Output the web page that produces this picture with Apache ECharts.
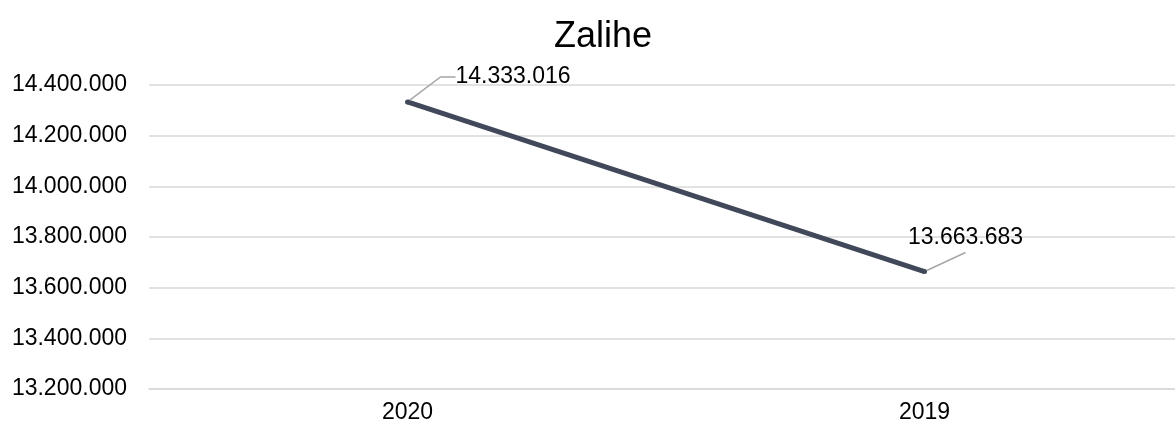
<!DOCTYPE html>
<html>
<head>
<meta charset="utf-8">
<script src="https://cdn.jsdelivr.net/npm/echarts@6/dist/echarts.min.js"></script>
<style>
  html, body { margin: 0; padding: 0; background: #fff; }
  #chart { width: 1175px; height: 428px; }
</style>
</head>
<body>
<div id="chart"></div>
<script>
// Inventory (Zalihe) by year
const titleText = 'Zalihe';
const categories = ['2020', '2019'];
const values = [14333016, 13663683];
const yMin = 13200000;
const yMax = 14400000;
const yStep = 200000;

// Thousands separated with dots
function fmt(v) {
  return String(Math.round(v)).replace(/\B(?=(\d{3})+(?!\d))/g, '.');
}

const FONT = '"Liberation Sans", Arial, sans-serif';

// Per-point label guide settings
const guideLen = [15, 0];
const labelPad = [[0, 0, 0, 0], [0, 40, 7, 40]];

const seriesData = values.map((v, i) => ({
  value: v,
  label: { padding: labelPad[i], backgroundColor: 'rgba(255,255,255,0)' },
  labelLine: { show: true, length2: guideLen[i], lineStyle: { color: '#a6a6a6', width: 1.5 } }
}));

const chart = echarts.init(document.getElementById('chart'), null, { renderer: 'canvas' });
chart.setOption({
  animation: false,
  backgroundColor: '#ffffff',
  title: {
    text: titleText,
    left: 549,
    top: 14,
    textStyle: { fontFamily: FONT, fontSize: 36, fontWeight: 'normal', color: '#000' }
  },
  grid: { left: 149, width: 1034, top: 85, bottom: 39, containLabel: false, outerBoundsMode: 'none' },
  xAxis: {
    type: 'category',
    data: categories,
    boundaryGap: true,
    axisLine: { lineStyle: { color: '#d9d9d9', width: 1.5 } },
    axisTick: { show: false },
    axisLabel: { fontFamily: FONT, fontSize: 23, color: '#000', margin: 12 }
  },
  yAxis: {
    type: 'value',
    min: yMin,
    max: yMax,
    interval: yStep,
    axisLine: { show: false },
    axisTick: { show: false },
    splitLine: { lineStyle: { color: '#d9d9d9', width: 1.5 } },
    axisLabel: { fontFamily: FONT, fontSize: 23, color: '#000', margin: 22, formatter: fmt }
  },
  series: [{
    type: 'line',
    data: seriesData,
    symbol: 'circle',
    symbolSize: 5,
    lineStyle: { color: '#404859', width: 5 },
    itemStyle: { color: '#404859' },
    label: {
      show: true,
      fontFamily: FONT,
      fontSize: 23,
      color: '#000',
      formatter: p => fmt(p.value)
    },
    labelLayout: function (p) {
      const cx = p.rect.x + p.rect.width / 2;
      const cy = p.rect.y + p.rect.height / 2;
      if (p.dataIndex === 0) {
        return { x: cx + 48, y: cy - 25, align: 'left', verticalAlign: 'middle' };
      }
      return { x: cx + 41, y: cy - 34, align: 'center', verticalAlign: 'middle' };
    }
  }]
});
</script>
</body>
</html>
